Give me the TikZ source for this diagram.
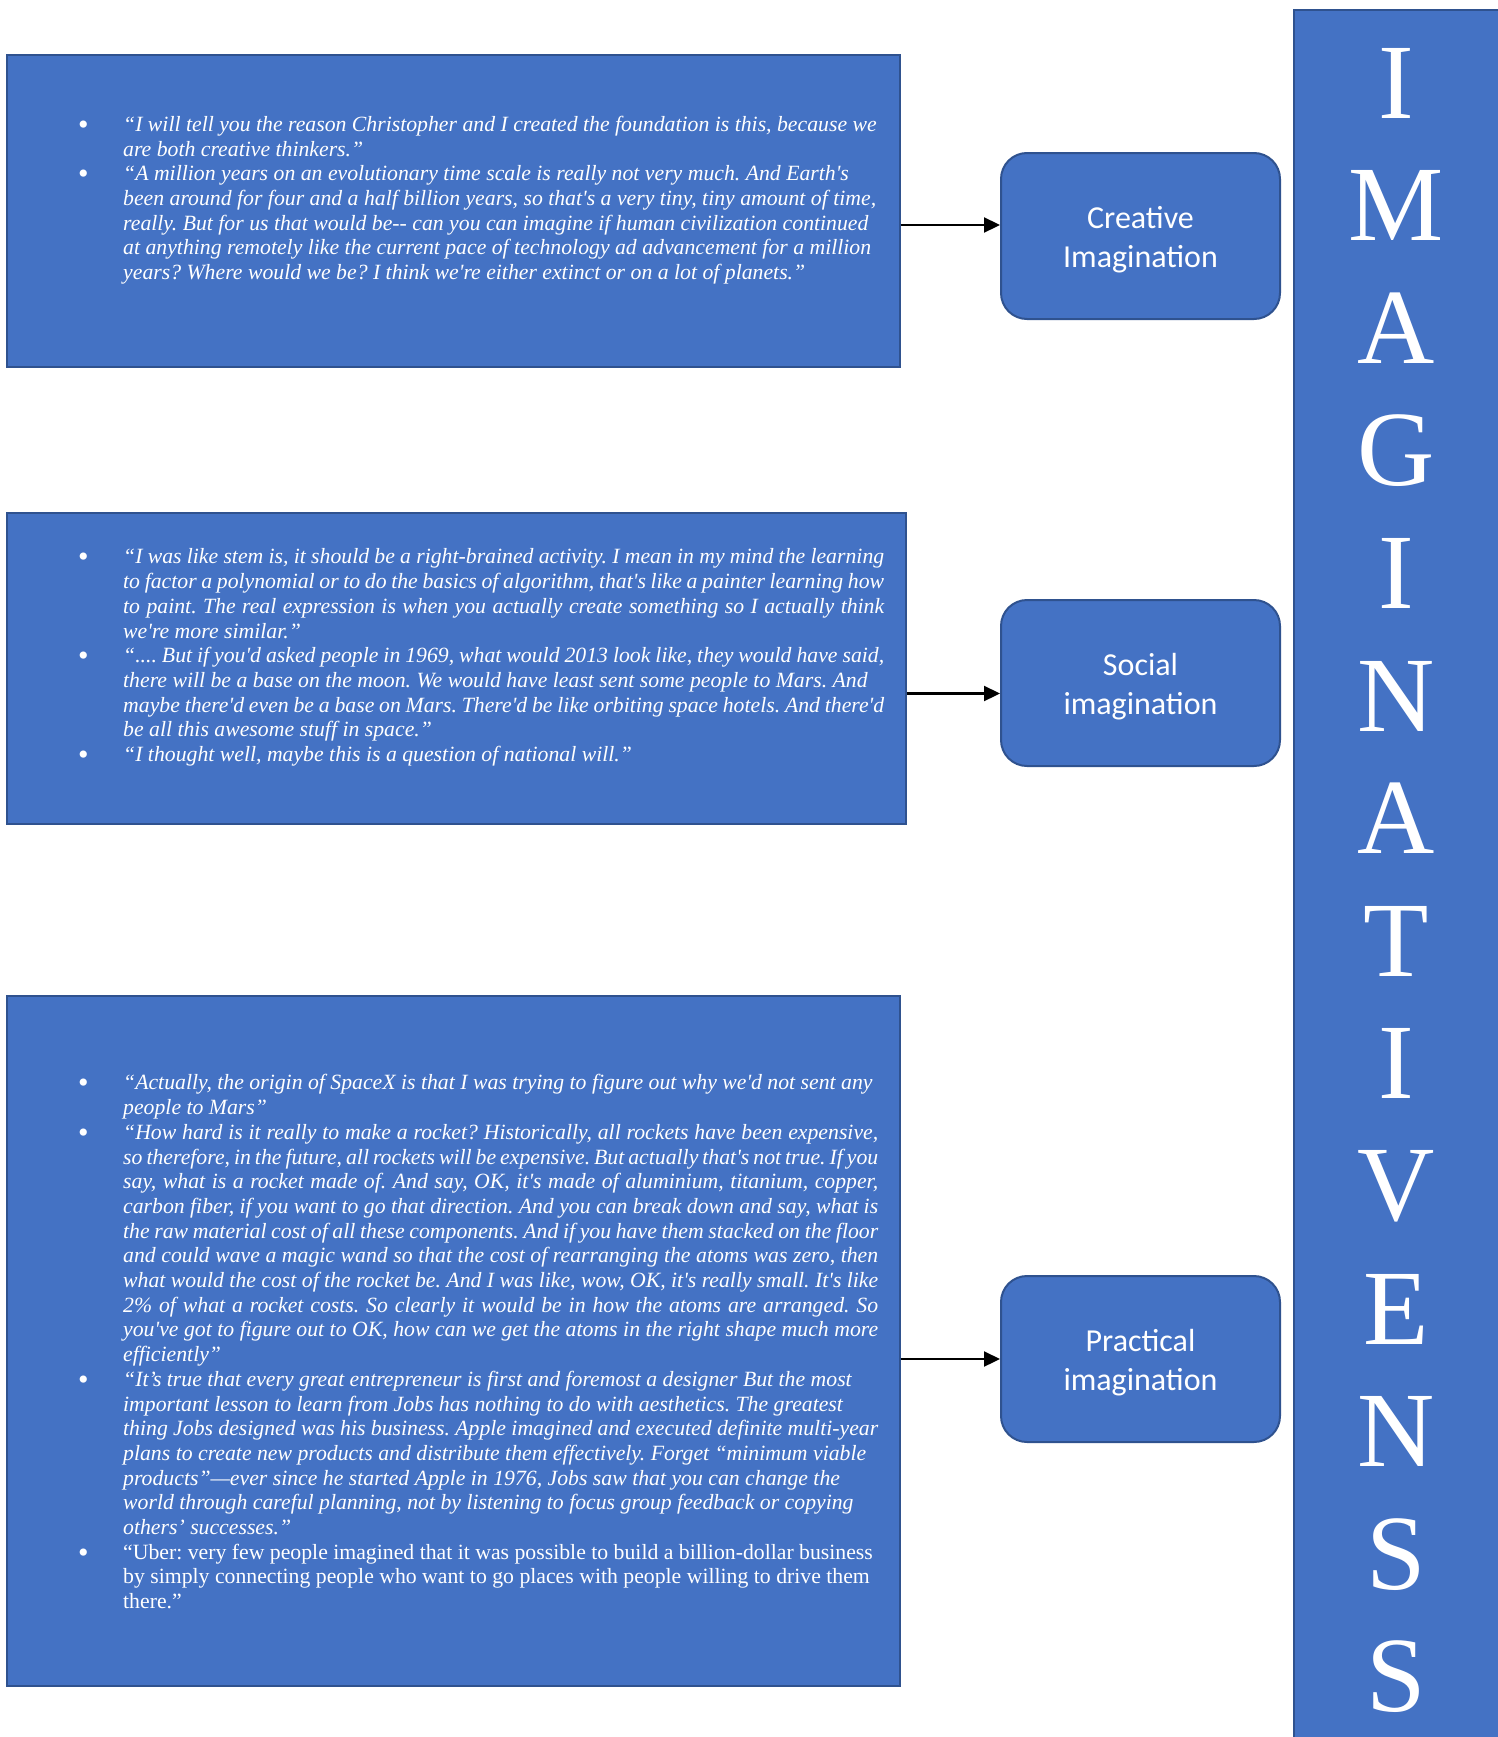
\documentclass[tikz,border=0pt]{standalone}
\usepackage{fontspec}
\setmainfont{Liberation Serif}[Ligatures=TeXOff]
\newfontfamily\labelfont{Carlito}
\usetikzlibrary{arrows.meta}

\definecolor{boxblue}{HTML}{4472C4}
\definecolor{edgeblue}{HTML}{2F528F}

\setlength{\parskip}{0pt}
\frenchspacing
\hyphenpenalty=10000
\exhyphenpenalty=10000

% one bullet point of a quote list
\newcommand{\qitem}{\par\noindent\llap{\makebox[45pt][l]{\raisebox{-3pt}{\fontsize{30}{24.7}\selectfont\upshape •}}}\strut}
% pushes the two label lines a bit down, as in the reference
\newcommand{\labelstrut}{\rule{0pt}{30pt}}

\tikzset{
  quotebox/.style={draw=edgeblue, fill=boxblue, line width=2pt, anchor=north west, inner sep=0pt},
  quotetext/.style={anchor=north west, inner sep=0pt, text=white, align=justify,
                    font=\fontsize{21.75}{24.7}\selectfont\itshape},
  labelbox/.style={draw=edgeblue, fill=boxblue, line width=2pt, rounded corners=26pt,
                   anchor=north west, minimum width=279pt, minimum height=166pt,
                   text=white, align=center, font=\labelfont\fontsize{32}{39}\selectfont},
  barletter/.style={text=white, inner sep=0pt, font=\fontsize{107}{120}\selectfont},
  link/.style={draw=black, line width=2.2pt, -{Triangle[length=16pt,width=15pt]}}
}

\begin{document}
\begin{tikzpicture}[x=1pt, y=-1pt]

  %% ════ quote boxes ════
  \node[quotebox, minimum width=893pt, minimum height=312pt] (quote1) at (5.5,54) {};
  \node[quotebox, minimum width=899pt, minimum height=311pt] (quote2) at (5.5,512) {};
  \node[quotebox, minimum width=893pt, minimum height=690pt] (quote3) at (5.5,995) {};

  %% ════ quote texts ════
  \node[quotetext, text width=768pt] (quote1text) at (123,106.5) {%
    \qitem “I will tell you the reason Christopher and I created the foundation is this, because we\newline
    are both creative thinkers.”
    \qitem “A million years on an evolutionary time scale is really not very much. And Earth's\newline
    been around for four and a half billion years, so that's a very tiny, tiny amount of time,\newline
    really. But for us that would be-- can you can imagine if human civilization continued\newline
    at anything remotely like the current pace of technology ad advancement for a million\newline
    years? Where would we be? I think we're either extinct or on a lot of planets.”};

  \node[quotetext, text width=761pt] (quote2text) at (123,539) {%
    \qitem “I was like stem is, it should be a right-brained activity. I mean in my mind the learning\linebreak
    to factor a polynomial or to do the basics of algorithm, that's like a painter learning how\linebreak
    to paint. The real expression is when you actually create something so I actually think\linebreak
    we're more similar.”
    \qitem “.... But if you'd asked people in 1969, what would 2013 look like, they would have said,\newline
    there will be a base on the moon. We would have least sent some people to Mars. And\newline
    maybe there'd even be a base on Mars. There'd be like orbiting space hotels. And there'd\newline
    be all this awesome stuff in space.”
    \qitem “I thought well, maybe this is a question of national will.”};

  \node[quotetext, text width=755pt] (quote3text) at (123,1065) {%
    \qitem “Actually, the origin of SpaceX is that I was trying to figure out why we'd not sent any\newline
    people to Mars”
    \qitem “How hard is it really to make a rocket? Historically, all rockets have been expensive,\linebreak
    so therefore, in the future, all rockets will be expensive. But actually that's not true. If you\linebreak
    say, what is a rocket made of. And say, OK, it's made of aluminium, titanium, copper,\linebreak
    carbon fiber, if you want to go that direction. And you can break down and say, what is\linebreak
    the raw material cost of all these components. And if you have them stacked on the floor\linebreak
    and could wave a magic wand so that the cost of rearranging the atoms was zero, then\linebreak
    what would the cost of the rocket be. And I was like, wow, OK, it's really small. It's like\linebreak
    2\% of what a rocket costs. So clearly it would be in how the atoms are arranged. So\linebreak
    you've got to figure out to OK, how can we get the atoms in the right shape much more\linebreak
    efficiently”
    \qitem “It’s true that every great entrepreneur is first and foremost a designer But the most\newline
    important lesson to learn from Jobs has nothing to do with aesthetics. The greatest\newline
    thing Jobs designed was his business. Apple imagined and executed definite multi-year\newline
    plans to create new products and distribute them effectively. Forget “minimum viable\newline
    products”—ever since he started Apple in 1976, Jobs saw that you can change the\newline
    world through careful planning, not by listening to focus group feedback or copying\newline
    others’ successes.”
    \qitem{\upshape “Uber: very few people imagined that it was possible to build a billion-dollar business\newline
    by simply connecting people who want to go places with people willing to drive them\newline
    there.”}};

  %% ════ imagination boxes ════
  \node[labelbox] (creative)  at (1000,152)  {\labelstrut Creative\\Imagination};
  \node[labelbox] (social)    at (1000,599)  {\labelstrut Social\\imagination};
  \node[labelbox] (practical) at (1000,1275) {\labelstrut Practical\\imagination};

  %% ════ connectors ════
  \draw[link] ([yshift=11pt]creative.west -| quote1.east) -- ([yshift=11pt]creative.west);
  \draw[link] ([yshift=-10.5pt]social.west -| quote2.east) -- ([yshift=-10.5pt]social.west);
  \draw[link] (practical.west -| quote3.east) -- (practical.west);

  %% ════ side bar ════
  \node[quotebox, minimum width=215pt, minimum height=1745pt] (sidebar) at (1293,9.5) {};
  \foreach \ch [count=\i] in {I,M,A,G,I,N,A,T,I,V,E,N,S,S}
    \node[barletter] (letter\i) at (1396,{83+122.6*(\i-1)}) {\ch};

  % fix the canvas to the reference size
  \pgfresetboundingbox
  \path[use as bounding box] (0,0) rectangle (1498,1737);
\end{tikzpicture}
\end{document}
